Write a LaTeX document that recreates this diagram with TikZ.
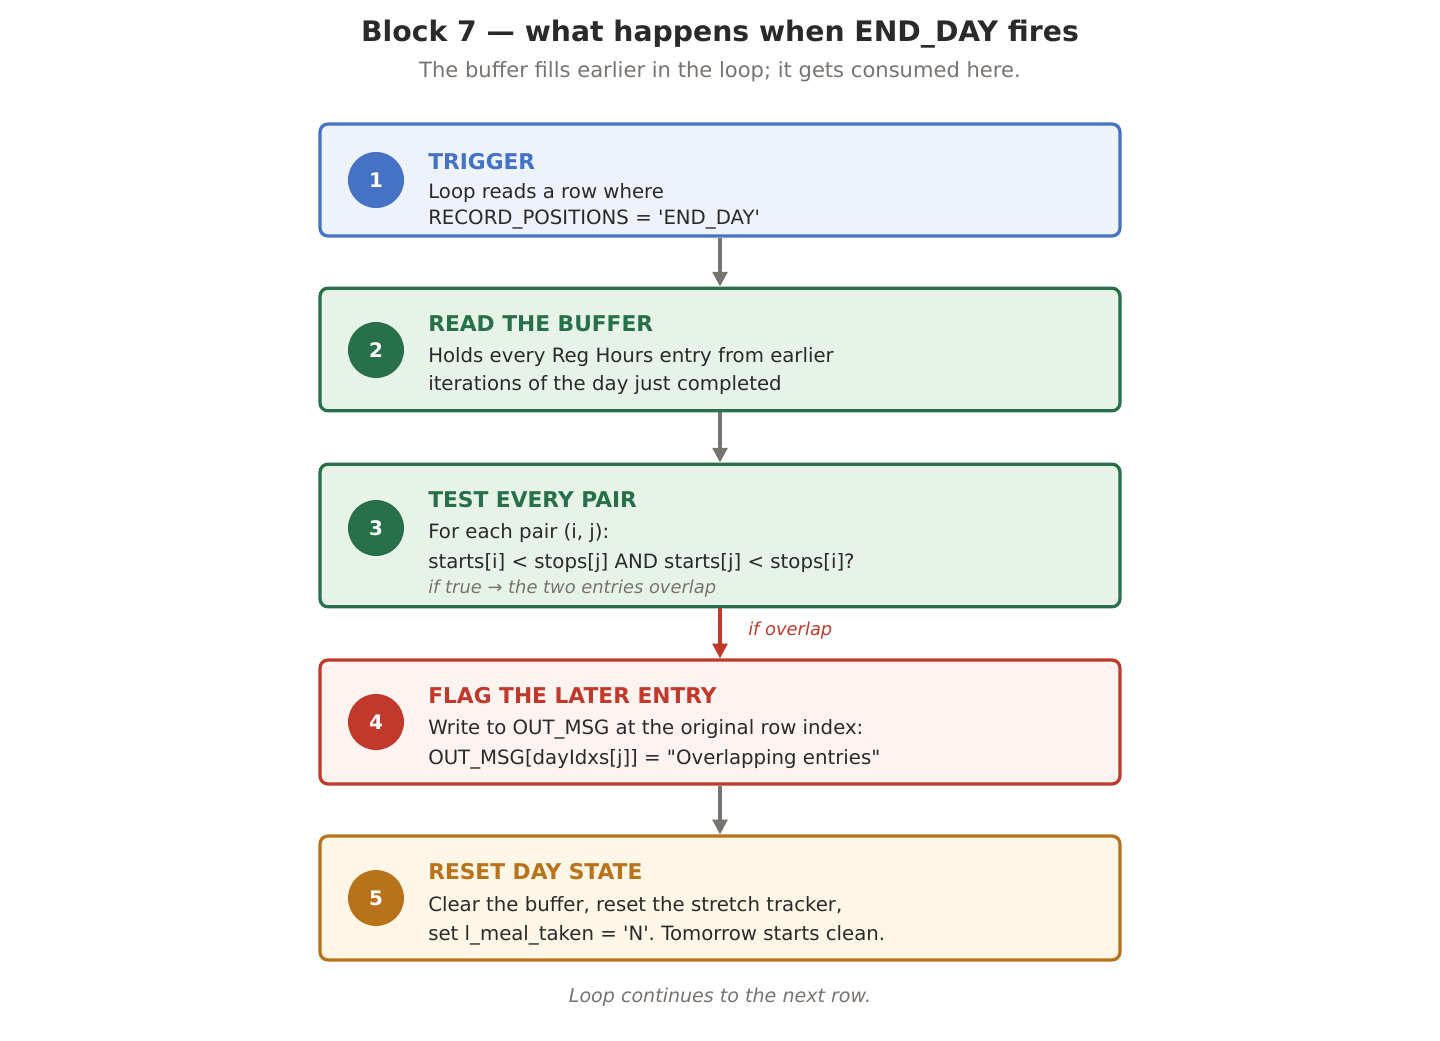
\documentclass[tikz,border=0pt]{standalone}
\usepackage{fontspec}
\setmainfont{DejaVu Sans}
\usetikzlibrary{arrows.meta}
\definecolor{cblue}{HTML}{4472C4}\definecolor{fblue}{HTML}{EEF2FA}
\definecolor{cgreen}{HTML}{277049}\definecolor{fgreen}{HTML}{E7F3E8}
\definecolor{cred}{HTML}{C0392B}\definecolor{fred}{HTML}{FDF3F0}
\definecolor{corange}{HTML}{B8721A}\definecolor{forange}{HTML}{FEF6E6}
\definecolor{ctext}{HTML}{2A2A2A}\definecolor{cgray}{HTML}{777370}
\newcommand{\sq}{\textquotesingle}
\newcommand{\dq}{\textquotedbl}
\begin{document}
\begin{tikzpicture}[x=0.75pt,y=-0.75pt,
 box/.style={draw=#1,line width=2.4pt,rounded corners=6pt,minimum width=600pt,inner sep=0pt},
 num/.style={circle,fill=#1,minimum size=42pt,inner sep=0pt,text=white,font=\fontsize{15}{18}\selectfont\bfseries},
 head/.style={anchor=west,inner sep=0pt,text=#1,font=\fontsize{16.3}{19}\selectfont\bfseries},
 body/.style={anchor=west,inner sep=0pt,text=ctext,font=\fontsize{14.8}{17}\selectfont},
 note/.style={anchor=west,inner sep=0pt,text=cgray,font=\fontsize{13.4}{15}\selectfont\itshape},
 arr/.style={draw=cgray,line width=2.4pt,-{Triangle[length=11pt,width=11pt]}}]
\useasboundingbox[fill=white] (0,0) rectangle (1440,1040);
\node[text=ctext,font=\fontsize{21.2}{25}\selectfont\bfseries] (title) at (720,34) {Block 7 — what happens when END\_DAY fires};
\node[text=cgray,font=\fontsize{15.8}{18}\selectfont] (sub) at (720,72) {The buffer fills earlier in the loop; it gets consumed here.};
% boxes
\node[box=cblue,fill=fblue,minimum height=84pt] (b1) at (720,180) {};
\node[box=cgreen,fill=fgreen,minimum height=92pt] (b2) at (720,349.5) {};
\node[box=cgreen,fill=fgreen,minimum height=107pt] (b3) at (720,535.5) {};
\node[box=cred,fill=fred,minimum height=93pt] (b4) at (720,722) {};
\node[box=corange,fill=forange,minimum height=93pt] (b5) at (720,898) {};
% numbers
\node[num=cblue] (n1) at (376,180) {1};
\node[num=cgreen] (n2) at (376,350) {2};
\node[num=cgreen] (n3) at (376,528) {3};
\node[num=cred] (n4) at (376,722) {4};
\node[num=corange] (n5) at (376,898) {5};
% texts
\node[head=cblue] (h1) at (428,162) {TRIGGER};
\node[body] (t1a) at (428,193) {Loop reads a row where};
\node[body] (t1b) at (428,219) {RECORD\_POSITIONS = \sq END\_DAY\sq};
\node[head=cgreen] (h2) at (428,324) {READ THE BUFFER};
\node[body] (t2a) at (428,357) {Holds every Reg Hours entry from earlier};
\node[body] (t2b) at (428,385) {iterations of the day just completed};
\node[head=cgreen] (h3) at (428,500) {TEST EVERY PAIR};
\node[body] (t3a) at (428,533) {For each pair (i, j):};
\node[body] (t3b) at (428,563) {starts[i] < stops[j] AND starts[j] < stops[i]?};
\node[note] (t3c) at (428,589) {if true → the two entries overlap};
\node[head=cred] (h4) at (428,696) {FLAG THE LATER ENTRY};
\node[body] (t4a) at (428,729) {Write to OUT\_MSG at the original row index:};
\node[body] (t4b) at (428,759) {OUT\_MSG[dayIdxs[j]] = \dq Overlapping entries\dq};
\node[head=corange] (h5) at (428,872) {RESET DAY STATE};
\node[body] (t5a) at (428,905) {Clear the buffer, reset the stretch tracker,};
\node[body] (t5b) at (428,935) {set l\_meal\_taken = \sq N\sq. Tomorrow starts clean.};
% arrows
\draw[arr] (b1.south) -- (b2.north);
\draw[arr] (b2.south) -- (b3.north);
\draw[arr,draw=cred] (b3.south) -- (b4.north);
\draw[arr] (b4.south) -- (b5.north);
\node[anchor=west,inner sep=0pt,text=cred,font=\fontsize{13.4}{15}\selectfont\itshape] (lbl) at (748,631) {if overlap};
\node[text=cgray,font=\fontsize{14.3}{16}\selectfont\itshape] (foot) at (720,997) {Loop continues to the next row.};
\end{tikzpicture}
\end{document}
